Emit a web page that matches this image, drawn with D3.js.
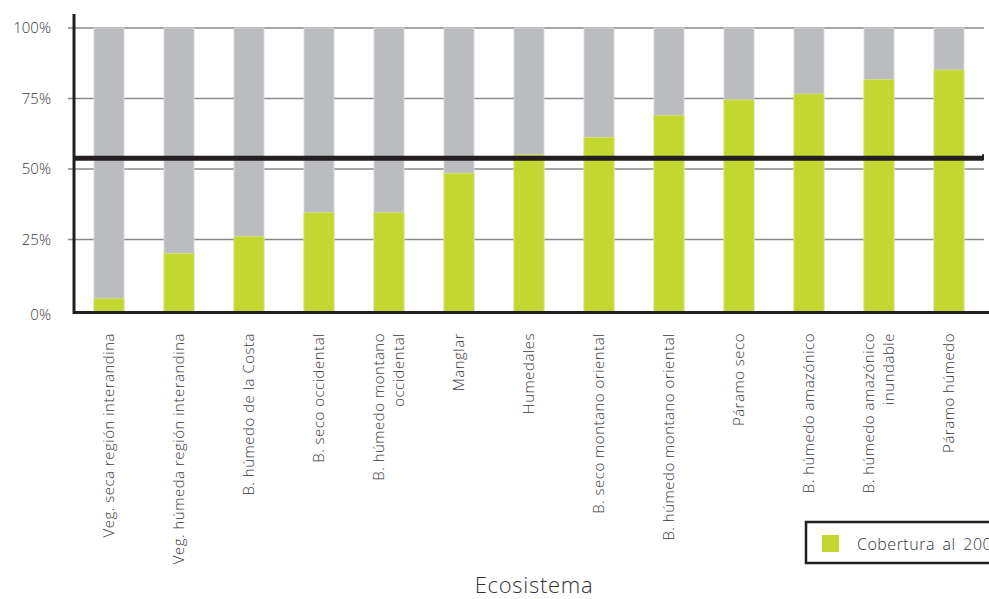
<!DOCTYPE html>
<html><head><meta charset="utf-8">
<script src="https://cdn.jsdelivr.net/npm/d3@7"></script>
<style>
html,body{margin:0;padding:0;background:#fff;}
svg{display:block;font-family:"Open Sans",Lato,sans-serif;font-weight:300;}
</style></head>
<body>
<svg id="chart" width="989" height="599"></svg>
<script>
const categories = [
  ["Veg. seca región interandina"],
  ["Veg. húmeda región interandina"],
  ["B. húmedo de la Costa"],
  ["B. seco occidental"],
  ["B. húmedo montano", "occidental"],
  ["Manglar"],
  ["Humedales"],
  ["B. seco montano oriental"],
  ["B. húmedo montano oriental"],
  ["Páramo seco"],
  ["B. húmedo amazónico"],
  ["B. húmedo amazónico", "inundable"],
  ["Páramo húmedo"]
];
const cobertura = [0.04, 0.20, 0.26, 0.345, 0.345, 0.485, 0.55, 0.612, 0.69, 0.745, 0.766, 0.817, 0.851];
const total = 1.0;
const referencia = 0.538;
const yTicks = [0, 0.25, 0.5, 0.75, 1];
const yTickLabels = ["0%", "25%", "50%", "75%", "100%"];
const xTitle = "Ecosistema";
const legendLabel = "Cobertura al 2001";

const svg = d3.select("#chart");
const x = d3.scaleBand().domain(d3.range(categories.length)).range([74, 984]).paddingInner(0.571).paddingOuter(0.2855);
const y = d3.scaleLinear().domain([0, 1]).range([310, 28]);

// gridlines
svg.append("g").selectAll("line").data(yTicks.slice(1)).join("line")
  .attr("x1", 68).attr("x2", 984)
  .attr("y1", d => y(d)).attr("y2", d => y(d))
  .attr("stroke", "#8a8a8a").attr("stroke-width", 1.6);

// bars: background (total)
svg.append("g").selectAll("rect").data(cobertura).join("rect")
  .attr("x", (d, i) => x(i)).attr("width", x.bandwidth())
  .attr("y", y(total)).attr("height", y(0) - y(total) + 2)
  .attr("fill", "#bbbcc0").attr("stroke", "#dcdcde").attr("stroke-width", 0.8);

// bars: coverage
svg.append("g").selectAll("rect").data(cobertura).join("rect")
  .attr("x", (d, i) => x(i)).attr("width", x.bandwidth())
  .attr("y", d => y(d)).attr("height", d => y(0) - y(d) + 2)
  .attr("fill", "#c2d72f").attr("stroke", "#d6e37a").attr("stroke-width", 0.8);

// reference line
svg.append("line").attr("x1", 74).attr("x2", 983)
  .attr("y1", y(referencia)).attr("y2", y(referencia))
  .attr("stroke", "#231f20").attr("stroke-width", 5);
svg.append("line").attr("x1", 983).attr("x2", 983)
  .attr("y1", y(referencia) - 4).attr("y2", y(referencia) + 2)
  .attr("stroke", "#231f20").attr("stroke-width", 2);

// axes lines
svg.append("line").attr("x1", 74).attr("x2", 74).attr("y1", 14).attr("y2", 314)
  .attr("stroke", "#231f20").attr("stroke-width", 3);
svg.append("line").attr("x1", 73).attr("x2", 989).attr("y1", 312.5).attr("y2", 312.5)
  .attr("stroke", "#231f20").attr("stroke-width", 3);

// y tick labels
svg.append("g").selectAll("text").data(yTicks).join("text")
  .attr("x", 51).attr("y", d => y(d) + (d === 0 ? 5 : 0))
  .attr("dy", "0.35em").attr("text-anchor", "end")
  .attr("font-size", 15).attr("fill", "#3a3a3a")
  .text((d, i) => yTickLabels[i]);

// x labels
const lab = svg.append("g");
categories.forEach((lines, i) => {
  const cx = x(i) + x.bandwidth() / 2;
  const n = lines.length;
  lines.forEach((t, j) => {
    const off = (j - (n - 1) / 2) * 20;
    lab.append("text")
      .attr("transform", `translate(${cx + off + 5},333) rotate(-90)`)
      .attr("text-anchor", "end")
      .attr("font-size", 15).attr("letter-spacing", 0.5).attr("fill", "#3a3a3a")
      .text(t);
  });
});

// x title
svg.append("text").attr("x", 534).attr("y", 593).attr("text-anchor", "middle")
  .attr("font-size", 22).attr("letter-spacing", 0.7).attr("fill", "#333").text(xTitle);

// legend
const lg = svg.append("g");
lg.append("rect").attr("x", 806).attr("y", 522).attr("width", 200).attr("height", 41)
  .attr("fill", "#fff").attr("stroke", "#231f20").attr("stroke-width", 2.5);
lg.append("rect").attr("x", 822).attr("y", 535).attr("width", 17).attr("height", 17)
  .attr("fill", "#c2d72f");
lg.append("text").attr("x", 857).attr("y", 550).attr("font-size", 16)
  .attr("letter-spacing", 0.5).attr("word-spacing", 3)
  .attr("fill", "#333").text(legendLabel);
</script>
</body></html>
